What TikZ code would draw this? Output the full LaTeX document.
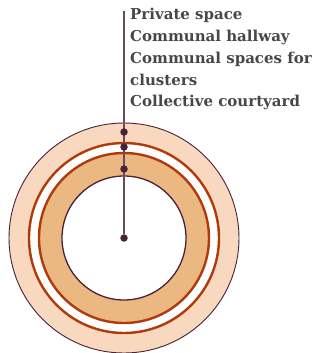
\documentclass[tikz,border=0pt]{standalone}
\usepackage{fontspec}
\setmainfont{DejaVu Serif}
\definecolor{peach}{HTML}{F8D8BF}
\definecolor{rust}{HTML}{B03A0A}
\definecolor{tan}{HTML}{EBB882}
\definecolor{plum}{HTML}{4A2238}
\definecolor{stem}{HTML}{6B4A5A}
\definecolor{txt}{HTML}{4A4646}
\begin{document}
\begin{tikzpicture}[x=1pt,y=-1pt,
  ring/.style={circle,inner sep=0pt,minimum size=#1},
  dot/.style={circle,fill=plum,inner sep=0pt,minimum size=7.5pt},
  lbl/.style={anchor=base west,inner sep=0pt,text=txt,font=\fontsize{15}{18}\selectfont\bfseries}]
\useasboundingbox (0,0) rectangle (325,353);
\node[ring=230pt,draw=plum,line width=0.9pt,fill=peach] (outer) at (124,238) {};
\node[ring=190pt,draw=rust,line width=2.4pt,fill=white] (redout) at (124,238) {};
\node[ring=170pt,draw=rust,line width=2.4pt,fill=tan] (redin) at (124,238) {};
\node[ring=124pt,draw=plum,line width=1.3pt,fill=white] (inner) at (124,238) {};
\coordinate (top) at (124,11);
\node[dot] (c) at (124,238) {};
\draw[stem,line width=1.2pt] (top) -- (c);
\node[dot] (d1) at (124,132) {};
\node[dot] (d2) at (124,147) {};
\node[dot] (d3) at (124,169) {};
\node[lbl] (l1) at (130,20) {Private space};
\node[lbl] (l2) at (130,41.7) {Communal hallway};
\node[lbl] (l3) at (130,63.4) {Communal spaces for};
\node[lbl] (l4) at (130,85.1) {clusters};
\node[lbl] (l5) at (130,106.8) {Collective courtyard};
\end{tikzpicture}
\end{document}
